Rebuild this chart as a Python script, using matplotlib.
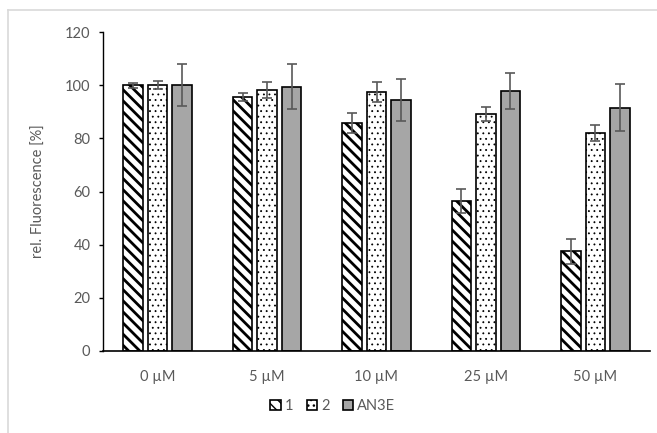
import matplotlib
matplotlib.use('Agg')
import matplotlib.pyplot as plt
from matplotlib.lines import Line2D
import numpy as np

plt.rcParams.update({
    "font.family": ["Lato", "DejaVu Sans"],
    "font.size": 10.5,
    "axes.spines.right": False,
    "axes.spines.top": False,
})

GREY_TXT = '#595959'
C_AN3E = '#a6a6a6'

# ===== Data =====
conc = ['0 µM', '5 µM', '10 µM', '25 µM', '50 µM']
series = ['1', '2', 'AN3E']
val_1 = [100.0, 95.7, 85.7, 56.4, 37.6]
err_1 = [0.9, 1.5, 3.8, 4.5, 4.7]
val_2 = [100.0, 98.2, 97.4, 89.2, 81.9]
err_2 = [1.5, 3.0, 3.8, 2.6, 3.0]
val_3 = [100.0, 99.4, 94.3, 97.8, 91.5]
err_3 = [7.8, 8.4, 7.9, 6.8, 8.9]

fig = plt.figure(figsize=(6.57, 4.33), dpi=100)
ax = fig.add_axes([103/657, 82/433, 547/657, 319/433])

x = np.arange(len(conc))
w = 0.178
off = 0.224
ekw = dict(ecolor=GREY_TXT, elinewidth=1.2, capsize=3.6, capthick=1.2)

with plt.rc_context({'hatch.linewidth': 2.0, 'hatch.color': 'black'}):
    ax.bar(x - off, val_1, w, yerr=err_1, color='white', edgecolor='black',
           linewidth=1.2, hatch='\\\\\\', label=series[0], error_kw=ekw, zorder=2)
with plt.rc_context({'hatch.linewidth': 0.6, 'hatch.color': '#333333'}):
    ax.bar(x, val_2, w, yerr=err_2, color='white', edgecolor='black',
           linewidth=1.2, hatch='...', label=series[1], error_kw=ekw, zorder=2)
ax.bar(x + off, val_3, w, yerr=err_3, color=C_AN3E, edgecolor='black',
       linewidth=1.2, label=series[2], error_kw=ekw, zorder=2)

ax.set_xlim(-0.5, len(conc) - 0.5)
ax.set_ylim(0, 120)
ax.set_yticks(range(0, 121, 20))
ax.set_xticks(x)
ax.set_xticklabels(conc)
ax.tick_params(axis='x', length=0, pad=14, colors=GREY_TXT, labelsize=10.5)
ax.tick_params(axis='y', length=3, width=1, direction='out', pad=6,
               colors='black', labelcolor=GREY_TXT, labelsize=10.5)
ax.spines['left'].set_linewidth(1.0)
ax.spines['bottom'].set_linewidth(1.2)

ax.set_ylabel('rel. Fluorescence [%]', color=GREY_TXT, fontsize=10.5)
ax.yaxis.set_label_coords(-0.104, 0.5)

leg = ax.legend(loc='center', bbox_to_anchor=(333/657, 1 - 406/433),
                bbox_transform=fig.transFigure, ncol=3, frameon=False,
                handlelength=0.7, handleheight=0.7, handletextpad=0.3,
                columnspacing=0.9, fontsize=10.5)
for t in leg.get_texts():
    t.set_color(GREY_TXT)

# chart-area border (only top and left visible)
bx, by = 8/657, 1 - 10/433
fig.add_artist(Line2D([bx, 1], [by, by], transform=fig.transFigure,
                      color='#d9d9d9', lw=1.2))
fig.add_artist(Line2D([bx, bx], [0, by], transform=fig.transFigure,
                      color='#d9d9d9', lw=1.2))

fig.savefig('out.png', dpi=100)
